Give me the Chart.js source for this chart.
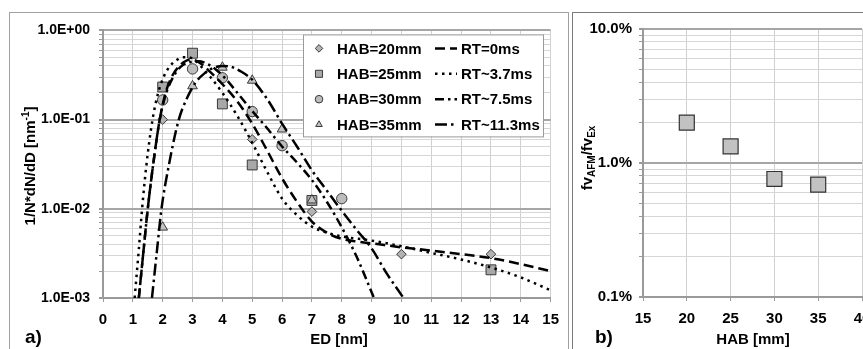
<!DOCTYPE html>
<html><head><meta charset="utf-8">
<script src="https://cdn.jsdelivr.net/npm/chart.js@4.4.1/dist/chart.umd.min.js"></script>
<style>
html,body{margin:0;padding:0;background:#fff;overflow:hidden;width:863px;height:349px;}
#pa{position:absolute;left:9px;top:12px;width:558px;height:345px;border:1px solid #a0a0a0;}
#pb{position:absolute;left:572px;top:12px;width:320px;height:345px;border:1px solid #7a7a7a;}
canvas{display:block}
</style></head><body>
<div id="pa"><canvas id="ca" width="558" height="337"></canvas></div>
<div id="pb"><canvas id="cb" width="320" height="337"></canvas></div>
<script>
// ---------- data: panel a) ----------
const habSeries = ['HAB=20mm','HAB=25mm','HAB=30mm','HAB=35mm'];
const rtSeries = ['RT=0ms','RT~3.7ms','RT~7.5ms','RT~11.3ms'];

const edHAB20 = [2, 5, 7, 10, 13];
const valHAB20 = [0.1, 0.06, 0.0093, 0.0031, 0.0031];
const edHAB25 = [2, 3, 4, 5, 7, 13];
const valHAB25 = [0.232, 0.555, 0.15, 0.031, 0.0124, 0.00207];
const edHAB30 = [2, 3, 4, 5, 6, 8];
const valHAB30 = [0.166, 0.37, 0.294, 0.123, 0.051, 0.013];
const edHAB35 = [2, 3, 4, 5, 6, 7];
const valHAB35 = [0.0062, 0.238, 0.385, 0.275, 0.078, 0.0125];

const fitRT0X = [1.2,1.35,1.5,1.7,1.9,2.1,2.3,2.5,2.7,2.9,3.1,3.3,3.6,4.0,4.5,5.0,5.5,6.0,6.5,7.0,7.5,8.0,8.5,9,10,11,12,13,14,15];
const fitRT0Y = [0.001,0.0032,0.01,0.035,0.1,0.2,0.3,0.38,0.44,0.47,0.46,0.42,0.34,0.25,0.16,0.09,0.045,0.022,0.012,0.0072,0.0054,0.0046,0.0043,0.0041,0.0037,0.0034,0.0031,0.0028,0.0024,0.002];
const fitRT37X = [1.06,1.2,1.31,1.45,1.66,1.85,2.05,2.25,2.45,2.65,2.85,3.05,3.3,3.6,4.0,4.5,5.0,5.5,6.0,6.5,7.0,7.5,8,9,10,11,12,13,14,15];
const fitRT37Y = [0.001,0.0035,0.01,0.03,0.1,0.2,0.31,0.4,0.46,0.5,0.5,0.47,0.39,0.3,0.2,0.11,0.055,0.026,0.013,0.0085,0.0063,0.0054,0.0049,0.0044,0.0038,0.0032,0.0027,0.0022,0.0017,0.00122];
const fitRT75X = [1.2,1.35,1.5,1.7,1.9,2.1,2.35,2.6,2.9,3.2,3.5,3.8,4.1,4.5,5.0,5.5,6.0,6.5,7.0,7.5,8.0,8.5,9.08];
const fitRT75Y = [0.001,0.0032,0.01,0.035,0.1,0.19,0.3,0.39,0.44,0.45,0.42,0.36,0.29,0.2,0.125,0.08,0.05,0.033,0.021,0.012,0.0062,0.0029,0.001];
const fitRT113X = [1.64,1.8,1.96,2.2,2.54,2.8,3.1,3.4,3.7,4.0,4.3,4.6,5.0,5.5,6.0,6.5,7.0,7.5,8.0,8.5,9.0,9.5,10.07];
const fitRT113Y = [0.001,0.0032,0.01,0.03,0.1,0.17,0.26,0.33,0.38,0.4,0.39,0.35,0.28,0.17,0.09,0.05,0.027,0.016,0.0095,0.0058,0.0036,0.0019,0.001];

const yDecadesA = [0.001, 0.01, 0.1, 1];
const yLabelsA = ['1.0E-03','1.0E-02','1.0E-01','1.0E+00'];

// ---------- data: panel b) ----------
const habB = [20, 25, 30, 35];
const ratioB = [0.020, 0.0133, 0.0076, 0.0069];
const yDecadesB = [0.001, 0.01, 0.1];
const yLabelsB = ['0.1%','1.0%','10.0%'];

// ---------- helpers ----------
const FONT = "'Liberation Sans', Arial, sans-serif";
const zip = (xs, ys) => xs.map((x, i) => ({x, y: ys[i]}));
function logTicks(decades){
  const t = [];
  for (let d = 0; d < decades.length - 1; d++) for (let k = 1; k < 10; k++) t.push({value: decades[d]*k});
  t.push({value: decades[decades.length-1]});
  return t;
}
const isDecade = v => Math.abs(Math.log10(v) - Math.round(Math.log10(v))) < 1e-6;
function decadeLabel(decades, labels){
  return v => { const i = decades.findIndex(d => Math.abs(d - v)/d < 1e-6); return i >= 0 ? labels[i] : ''; };
}
function drawMarker(ctx, style, x, y, r, fill, stroke){
  ctx.save(); ctx.fillStyle = fill; ctx.strokeStyle = stroke; ctx.lineWidth = 1; ctx.setLineDash([]);
  ctx.beginPath();
  if (style === 'rectRot'){ ctx.moveTo(x-r,y); ctx.lineTo(x,y-r); ctx.lineTo(x+r,y); ctx.lineTo(x,y+r); ctx.closePath(); }
  else if (style === 'rect'){ const s = r*Math.SQRT1_2; ctx.rect(x-s,y-s,2*s,2*s); }
  else if (style === 'circle'){ ctx.arc(x,y,r,0,Math.PI*2); }
  else { ctx.moveTo(x,y-r); ctx.lineTo(x+r*0.866,y+r*0.5); ctx.lineTo(x-r*0.866,y+r*0.5); ctx.closePath(); }
  ctx.fill(); ctx.stroke(); ctx.restore();
}

const markerStyles = [
  {pointStyle:'rectRot', radius:4.8, bg:'#b3b3b3'},
  {pointStyle:'rect', radius:7, bg:'#a8a8a8'},
  {pointStyle:'circle', radius:5.2, bg:'#bcbcbc'},
  {pointStyle:'triangle', radius:5.6, bg:'#c2c2c2'}
];
const lineDashes = [[10,5],[2.5,4.5],[9,4,2.5,4],[12,4,2.5,4]];

const markerData = [zip(edHAB20,valHAB20), zip(edHAB25,valHAB25), zip(edHAB30,valHAB30), zip(edHAB35,valHAB35)];
const fitData = [zip(fitRT0X,fitRT0Y), zip(fitRT37X,fitRT37Y), zip(fitRT75X,fitRT75Y), zip(fitRT113X,fitRT113Y)];

const datasetsA = [];
markerData.forEach((d, i) => datasetsA.push({
  label: habSeries[i], data: d, order: 4 - i + 1,
  pointStyle: markerStyles[i].pointStyle, pointRadius: markerStyles[i].radius,
  pointBackgroundColor: markerStyles[i].bg, pointBorderColor: '#3a3a3a', pointBorderWidth: 1, showLine: false
}));
fitData.forEach((d, i) => datasetsA.push({
  label: rtSeries[i], data: d, order: 0, showLine: true, pointRadius: 0,
  borderColor: '#000', borderWidth: 2.5, borderDash: lineDashes[i], cubicInterpolationMode: 'monotone', fill: false
}));

function rotatedTitle(ctx, cx, cy, parts){
  ctx.save(); ctx.translate(cx, cy); ctx.rotate(-Math.PI/2);
  ctx.fillStyle = '#000'; ctx.textBaseline = 'middle'; ctx.textAlign = 'left';
  let total = 0;
  parts.forEach(p => { ctx.font = 'bold ' + p.size + 'px ' + FONT; p.w = ctx.measureText(p.t).width; total += p.w; });
  let x = -total/2;
  parts.forEach(p => { ctx.font = 'bold ' + p.size + 'px ' + FONT; ctx.fillText(p.t, x, p.dy || 0); x += p.w; });
  ctx.restore();
}

const decorA = {
  id: 'decorA',
  afterDraw(chart){
    const ctx = chart.ctx, ca = chart.chartArea;
    ctx.save();
    ctx.fillStyle = '#000'; ctx.textAlign = 'center'; ctx.textBaseline = 'middle';
    ctx.font = 'bold 15px ' + FONT;
    ctx.fillText('ED [nm]', 329, 327);
    ctx.textAlign = 'left'; ctx.font = 'bold 19px ' + FONT;
    ctx.fillText('a)', 15, 325);
    rotatedTitle(ctx, 21, 153, [{t:'1/N*dN/dD [nm', size:15}, {t:'-1', size:10, dy:-5}, {t:']', size:15}]);
    // legend
    const lx = ca.left + 200, ly = ca.top + 4, lw = 240, lh = 102;
    ctx.fillStyle = '#fff'; ctx.fillRect(lx, ly, lw, lh);
    ctx.strokeStyle = '#9a9a9a'; ctx.lineWidth = 1; ctx.strokeRect(lx+0.5, ly+0.5, lw, lh);
    for (let i = 0; i < 4; i++){
      const ry = ly + 14 + i*25.4;
      drawMarker(ctx, markerStyles[i].pointStyle, lx + 16, ry, i === 1 ? 5 : 3.8, markerStyles[i].bg, '#3a3a3a');
      ctx.fillStyle = '#000'; ctx.font = 'bold 15px ' + FONT; ctx.textAlign = 'left'; ctx.textBaseline = 'middle';
      ctx.fillText(habSeries[i], lx + 34, ry + 1);
      ctx.save(); ctx.strokeStyle = '#000'; ctx.lineWidth = 2.5; ctx.setLineDash(lineDashes[i]);
      ctx.beginPath(); ctx.moveTo(lx + 132, ry); ctx.lineTo(lx + 154, ry); ctx.stroke(); ctx.restore();
      ctx.fillText(rtSeries[i], lx + 158, ry + 1);
    }
    ctx.restore();
  }
};

new Chart(document.getElementById('ca'), {
  type: 'scatter',
  data: { datasets: datasetsA },
  options: {
    responsive: false, animation: false,
    layout: { padding: { left: 0, top: 12, right: 10, bottom: 0 } },
    plugins: { legend: { display: false }, tooltip: { enabled: false } },
    scales: {
      x: {
        type: 'linear', min: 0, max: 15,
        afterFit: s => { s.height = 52; },
        ticks: { stepSize: 1, color: '#000', padding: 9, font: { family: FONT, size: 15, weight: 'bold' } },
        grid: { color: '#d0d0d0', lineWidth: 1, tickLength: 4, tickColor: '#9a9a9a' },
        border: { color: '#9a9a9a', width: 2 }
      },
      y: {
        type: 'logarithmic', min: 0.001, max: 1,
        afterFit: s => { s.width = 93; },
        afterBuildTicks: s => { s.ticks = logTicks(yDecadesA); },
        ticks: { autoSkip: false, color: '#000', padding: 9, font: { family: FONT, size: 14, weight: 'bold' },
                 callback: decadeLabel(yDecadesA, yLabelsA) },
        grid: { color: c => isDecade(c.tick.value) ? '#a6a6a6' : '#d6d6d6',
                lineWidth: c => isDecade(c.tick.value) ? 2 : 1, tickLength: 4, tickColor: '#9a9a9a' },
        border: { color: '#9a9a9a', width: 2 }
      }
    }
  },
  plugins: [decorA]
});

// ---------- panel b ----------
const decorB = {
  id: 'decorB',
  afterDraw(chart){
    const ctx = chart.ctx;
    ctx.save();
    ctx.fillStyle = '#000'; ctx.textAlign = 'center'; ctx.textBaseline = 'middle';
    ctx.font = 'bold 15px ' + FONT;
    ctx.fillText('HAB [mm]', 180, 327);
    ctx.textAlign = 'left'; ctx.font = 'bold 19px ' + FONT;
    ctx.fillText('b)', 22, 325);
    rotatedTitle(ctx, 15, 145, [{t:'fv', size:15}, {t:'AFM', size:10, dy:4}, {t:'/fv', size:15}, {t:'Ex', size:10, dy:4}]);
    ctx.restore();
  }
};

new Chart(document.getElementById('cb'), {
  type: 'scatter',
  data: { datasets: [{
    label: 'fvAFM/fvEx', data: zip(habB, ratioB),
    pointStyle: 'rect', pointRadius: 10.6, pointBackgroundColor: '#c2c2c2', pointBorderColor: '#333', pointBorderWidth: 1.2
  }] },
  options: {
    responsive: false, animation: false,
    layout: { padding: { left: 0, top: 12, right: 31, bottom: 0 } },
    plugins: { legend: { display: false }, tooltip: { enabled: false } },
    scales: {
      x: {
        type: 'linear', min: 15, max: 40,
        afterFit: s => { s.height = 53; },
        ticks: { stepSize: 5, color: '#000', padding: 9, font: { family: FONT, size: 15, weight: 'bold' } },
        grid: { color: '#d0d0d0', lineWidth: 1, tickLength: 4, tickColor: '#9a9a9a' },
        border: { color: '#9a9a9a', width: 2 }
      },
      y: {
        type: 'logarithmic', min: 0.001, max: 0.1,
        afterFit: s => { s.width = 70; },
        afterBuildTicks: s => { s.ticks = logTicks(yDecadesB); },
        ticks: { autoSkip: false, color: '#000', padding: 7, font: { family: FONT, size: 15, weight: 'bold' },
                 callback: decadeLabel(yDecadesB, yLabelsB) },
        grid: { color: c => isDecade(c.tick.value) ? '#a6a6a6' : '#d6d6d6',
                lineWidth: c => isDecade(c.tick.value) ? 2 : 1, tickLength: 4, tickColor: '#9a9a9a' },
        border: { color: '#9a9a9a', width: 2 }
      }
    }
  },
  plugins: [decorB]
});
</script>
</body></html>
